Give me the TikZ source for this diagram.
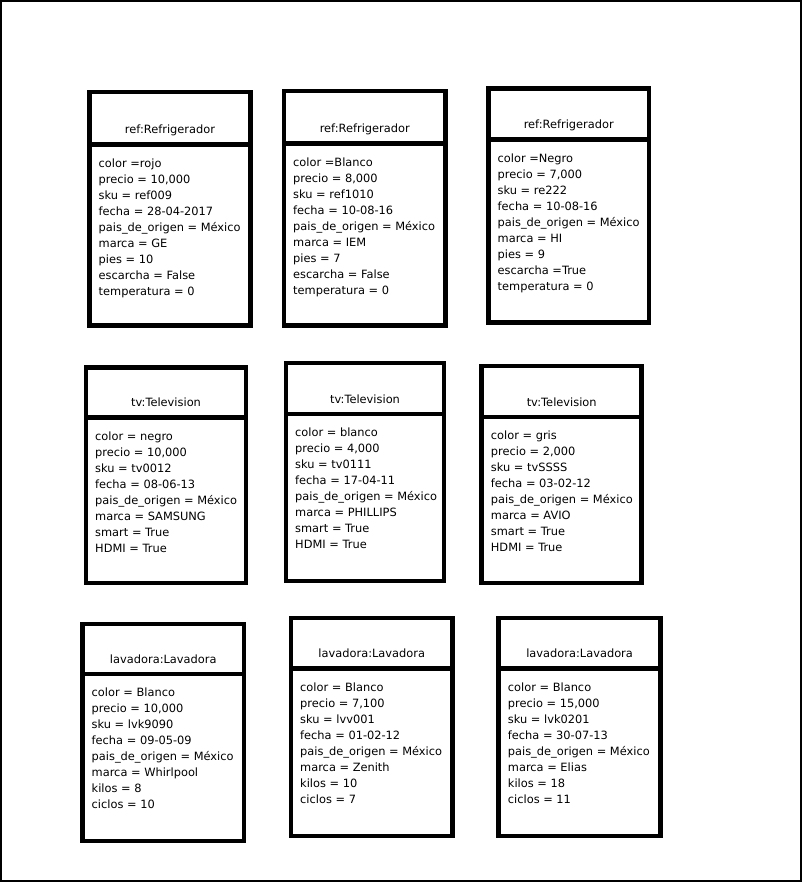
\documentclass[tikz,border=0pt]{standalone}
\usepackage{fontspec}
\setmainfont{DejaVu Sans}
\tikzset{
  part/.style={draw=black, line width=4.5pt, inner sep=0pt, outer sep=0pt, fill=white},
  ttl/.style={anchor=base, inner sep=0pt, font=\fontsize{11.4}{16}\selectfont},
  attrs/.style={anchor=north west, align=left, inner sep=0pt, font=\fontsize{11.4}{16}\selectfont},
}
% #1 name, #2 left, #3 top, #4 right, #5 separator, #6 bottom, #7 title, #8 attributes
\newcommand\umlobj[8]{%
  \node[part, anchor=north west, minimum width={#4-#2}, minimum height={#5-#3}] (#1-h) at (#2,#3) {};
  \node[part, anchor=north west, minimum width={#4-#2}, minimum height={#6-#5}] (#1-b) at (#2,#5) {};
  \node[ttl] (#1-t) at ({(#2+#4)/2},{#5-11}) {#7};
  \node[attrs] (#1-a) at ({#2+9},{#5+14}) {#8};
}
\begin{document}
\begin{tikzpicture}[x=1pt,y=-1pt]
\useasboundingbox (0,0) rectangle (802,882);
\draw[line width=2pt] (1,1) rectangle (801,881);
\umlobj{r1}{89.5}{92}{250.5}{144.5}{325.5}{ref:Refrigerador}{color =rojo\\precio = 10,000\\sku = ref009\\fecha = 28-04-2017\\pais\_de\_origen = México\\marca = GE\\pies = 10\\escarcha = False\\temperatura = 0}
\umlobj{r2}{284}{91}{445.5}{143.5}{325.5}{ref:Refrigerador}{color =Blanco\\precio = 8,000\\sku = ref1010\\fecha = 10-08-16\\pais\_de\_origen = México\\marca = IEM\\pies = 7\\escarcha = False\\temperatura = 0}
\umlobj{r3}{488.5}{88.5}{649}{139.7}{322.5}{ref:Refrigerador}{color =Negro\\precio = 7,000\\sku = re222\\fecha = 10-08-16\\pais\_de\_origen = México\\marca = HI\\pies = 9\\escarcha =True\\temperatura = 0}
\umlobj{t1}{86}{367.5}{246}{417.5}{583}{tv:Television}{color = negro\\precio = 10,000\\sku = tv0012\\fecha = 08-06-13\\pais\_de\_origen = México\\marca = SAMSUNG\\smart = True\\HDMI = True}
\umlobj{t2}{286}{363}{444}{414}{581}{tv:Television}{color = blanco\\precio = 4,000\\sku = tv0111\\fecha = 17-04-11\\pais\_de\_origen = México\\marca = PHILLIPS\\smart = True\\HDMI = True}
\umlobj{t3}{481.7}{366}{641.7}{417}{583}{tv:Television}{color = gris\\precio = 2,000\\sku = tvSSSS\\fecha = 03-02-12\\pais\_de\_origen = México\\marca = AVIO\\smart = True\\HDMI = True}
\umlobj{l1}{82.5}{624}{244}{674}{841}{lavadora:Lavadora}{color = Blanco\\precio = 10,000\\sku = lvk9090\\fecha = 09-05-09\\pais\_de\_origen = México\\marca = Whirlpool\\kilos = 8\\ciclos = 10}
\umlobj{l2}{291}{618}{452.5}{668.5}{836}{lavadora:Lavadora}{color = Blanco\\precio = 7,100\\sku = lvv001\\fecha = 01-02-12\\pais\_de\_origen = México\\marca = Zenith\\kilos = 10\\ciclos = 7}
\umlobj{l3}{498.7}{618}{660.5}{668.5}{836}{lavadora:Lavadora}{color = Blanco\\precio = 15,000\\sku = lvk0201\\fecha = 30-07-13\\pais\_de\_origen = México\\marca = Elias\\kilos = 18\\ciclos = 11}
\end{tikzpicture}
\end{document}
